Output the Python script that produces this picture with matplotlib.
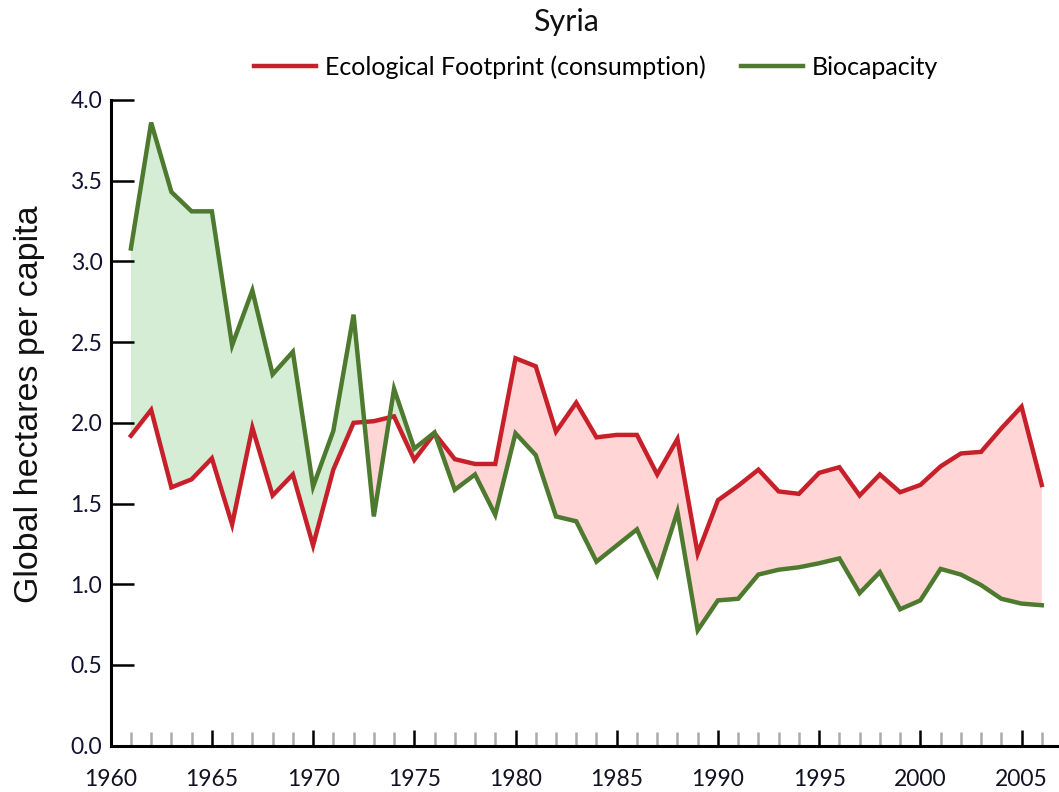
import matplotlib
matplotlib.use("Agg")
import matplotlib.pyplot as plt
import numpy as np
from matplotlib.ticker import MultipleLocator, FormatStrFormatter

years = list(range(1961, 2007))
footprint = [1.92, 2.08, 1.60, 1.65, 1.78, 1.37, 1.97, 1.55, 1.68, 1.24,
             1.71, 2.00, 2.01, 2.04, 1.77, 1.935, 1.775, 1.745, 1.745, 2.40,
             2.35, 1.945, 2.125, 1.91, 1.925, 1.925, 1.68, 1.90, 1.19, 1.52,
             1.61, 1.71, 1.575, 1.56, 1.69, 1.725, 1.55, 1.68, 1.57, 1.615,
             1.73, 1.81, 1.82, 1.965, 2.10, 1.615]
biocapacity = [3.08, 3.86, 3.43, 3.31, 3.31, 2.48, 2.82, 2.30, 2.44, 1.605,
               1.95, 2.67, 1.42, 2.21, 1.84, 1.94, 1.585, 1.68, 1.43, 1.935,
               1.80, 1.42, 1.39, 1.14, 1.24, 1.34, 1.06, 1.45, 0.715, 0.90,
               0.91, 1.06, 1.09, 1.105, 1.13, 1.16, 0.945, 1.075, 0.845, 0.90,
               1.095, 1.06, 0.995, 0.91, 0.88, 0.87]
title = "Syria"
label_fp = "Ecological Footprint (consumption)"
label_bc = "Biocapacity"
ylabel = "Global hectares per capita"

RED = "#C8202A"
GREEN = "#4E7A2F"
FILL_G = "#D5EDD5"
FILL_R = "#FFD5D5"

plt.rcParams['font.family'] = ['Lato', 'DejaVu Sans']

fig = plt.figure(figsize=(10.59, 7.92), dpi=100)
ax = fig.add_axes([0.1045, 0.0585, 1 - 0.1045, 0.8153])

x = np.array(years, dtype=float)
fp = np.array(footprint)
bc = np.array(biocapacity)

ax.fill_between(x, fp, bc, where=bc >= fp, interpolate=True, color=FILL_G, lw=0, zorder=1)
ax.fill_between(x, fp, bc, where=fp >= bc, interpolate=True, color=FILL_R, lw=0, zorder=1)
l1, = ax.plot(x, fp, color=RED, lw=3.2, solid_joinstyle='miter', zorder=3, label=label_fp)
l2, = ax.plot(x, bc, color=GREEN, lw=3.2, solid_joinstyle='miter', zorder=3, label=label_bc)

ax.set_xlim(1960, 2006.85)
ax.set_ylim(0, 4.0)

for s in ['top', 'right']:
    ax.spines[s].set_visible(False)
for s in ['left', 'bottom']:
    ax.spines[s].set_linewidth(2.2)
    ax.spines[s].set_color('black')

ax.xaxis.set_major_locator(MultipleLocator(5))
ax.xaxis.set_minor_locator(MultipleLocator(1))
ax.yaxis.set_major_locator(MultipleLocator(0.5))
ax.yaxis.set_major_formatter(FormatStrFormatter('%.1f'))

ax.tick_params(axis='x', which='major', direction='in', length=11.5, width=1.8,
               color='black', pad=17, labelsize=16.5, labelcolor='#111122')
ax.tick_params(axis='x', which='minor', direction='in', length=10, width=1.8,
               color='#AAAAAA')
ax.tick_params(axis='y', which='major', direction='in', length=16.5, width=1.8,
               color='black', pad=6, labelsize=16.5, labelcolor='#111133')

fig.text(0.028, 0.49, ylabel, rotation=90, ha='center', va='center',
         fontsize=24.5, family=['Liberation Sans', 'DejaVu Sans'], color='#111111')
fig.text(0.534, 0.972, title, ha='center', va='center', fontsize=22, color='#111111')
fig.legend(handles=[l1, l2], loc='center', bbox_to_anchor=(0.563, 0.915), ncol=2,
           frameon=False, fontsize=18, handlelength=2.5, handletextpad=0.35,
           columnspacing=1.4)

fig.savefig("out.png", dpi=100)
